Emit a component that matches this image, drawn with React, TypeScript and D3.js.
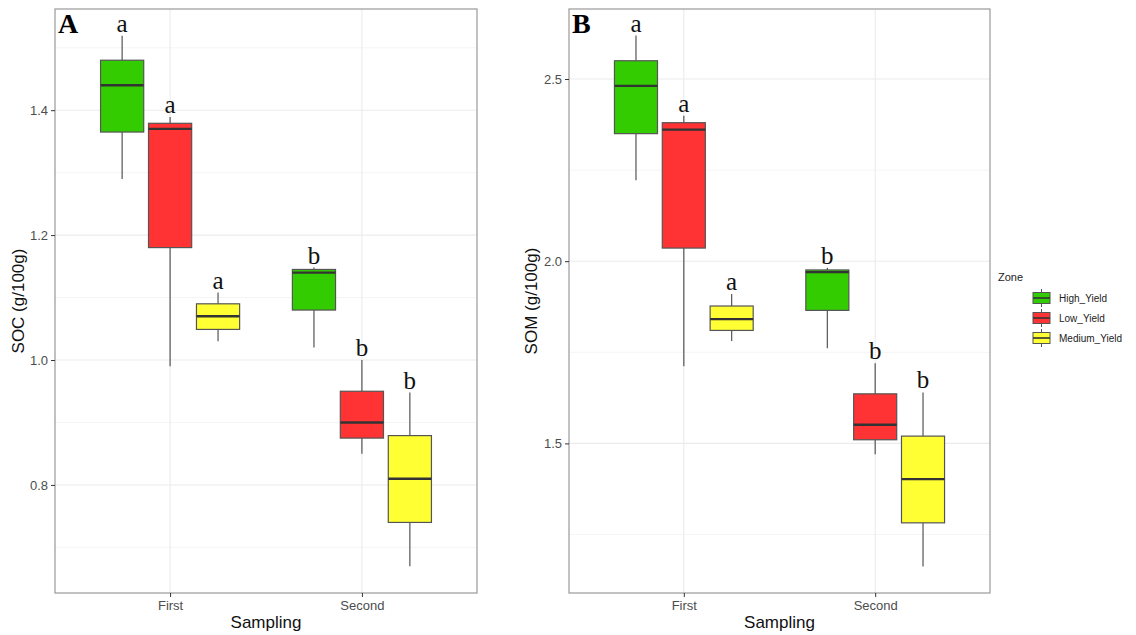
import React, { useEffect, useRef } from 'react';
import * as d3 from 'd3';

// categories
const samplings = ['First', 'Second'];
const zones = ['High_Yield', 'Low_Yield', 'Medium_Yield'];
const zoneColors = ['#33cc00', '#ff3333', '#ffff33'];

// box order: First-High, First-Low, First-Medium, Second-High, Second-Low, Second-Medium
const socLower = [1.29, 0.99, 1.03, 1.02, 0.85, 0.67];
const socQ1 = [1.365, 1.18, 1.049, 1.08, 0.875, 0.74];
const socMedian = [1.44, 1.37, 1.07, 1.14, 0.9, 0.81];
const socQ3 = [1.48, 1.379, 1.09, 1.145, 0.95, 0.879];
const socUpper = [1.519, 1.389, 1.108, 1.148, 1.0, 0.948];
const socLetters = ['a', 'a', 'a', 'b', 'b', 'b'];
const socTicks = [0.8, 1.0, 1.2, 1.4];
const socMinor = [0.7, 0.9, 1.1, 1.3, 1.5];

const somLower = [2.222, 1.712, 1.781, 1.761, 1.47, 1.162];
const somQ1 = [2.35, 2.036, 1.81, 1.865, 1.51, 1.282];
const somMedian = [2.481, 2.361, 1.841, 1.97, 1.551, 1.402];
const somQ3 = [2.55, 2.38, 1.877, 1.976, 1.636, 1.52];
const somUpper = [2.619, 2.399, 1.91, 1.982, 1.72, 1.64];
const somLetters = ['a', 'a', 'a', 'b', 'b', 'b'];
const somTicks = [1.5, 2.0, 2.5];
const somMinor = [1.25, 1.75, 2.25];

type Panel = {
  tag: string;
  title: string;
  left: number;
  right: number;
  domain: [number, number];
  lower: number[];
  q1: number[];
  median: number[];
  q3: number[];
  upper: number[];
  letters: string[];
  ticks: number[];
  minor: number[];
  titleX: number;
};

const top = 9, bottom = 593;
const sans = '"Liberation Sans", Arial, Helvetica, sans-serif';
const serif = '"Liberation Serif", "Times New Roman", serif';

const panels: Panel[] = [
  {
    tag: 'A', title: 'SOC (g/100g)', left: 55, right: 477, domain: [0.627, 1.562],
    lower: socLower, q1: socQ1, median: socMedian, q3: socQ3, upper: socUpper,
    letters: socLetters, ticks: socTicks, minor: socMinor, titleX: 18,
  },
  {
    tag: 'B', title: 'SOM (g/100g)', left: 569, right: 990, domain: [1.0895, 2.692],
    lower: somLower, q1: somQ1, median: somMedian, q3: somQ3, upper: somUpper,
    letters: somLetters, ticks: somTicks, minor: somMinor, titleX: 531,
  },
];

const drawPanel = (svg: any, p: Panel) => {
  const x = d3.scalePoint().domain(samplings).range([p.left, p.right]).padding(0.6);
  const step = x.step();
  const dodge = d3.scaleBand().domain(zones).range([-0.375 * step, 0.375 * step]);
  const boxW = dodge.bandwidth() * 0.9;
  const y = d3.scaleLinear().domain(p.domain).range([bottom, top]);

  const g = svg.append('g');

  // grid
  g.selectAll('line.minor')
    .data(p.minor.filter(v => y(v) > top && y(v) < bottom))
    .enter().append('line')
    .attr('x1', p.left).attr('x2', p.right)
    .attr('y1', d => y(d)).attr('y2', d => y(d))
    .attr('stroke', '#f2f2f2').attr('stroke-width', 0.8);
  g.selectAll('line.major')
    .data(p.ticks)
    .enter().append('line')
    .attr('x1', p.left).attr('x2', p.right)
    .attr('y1', d => y(d)).attr('y2', d => y(d))
    .attr('stroke', '#ebebeb').attr('stroke-width', 1.1);
  g.selectAll('line.vgrid')
    .data(samplings)
    .enter().append('line')
    .attr('x1', d => x(d)).attr('x2', d => x(d))
    .attr('y1', top).attr('y2', bottom)
    .attr('stroke', '#ebebeb').attr('stroke-width', 1.1);

  const boxes = p.median.map((m, i) => ({
    s: samplings[Math.floor(i / 3)],
    z: zones[i % 3],
    c: zoneColors[i % 3],
    lo: p.lower[i], q1: p.q1[i], md: m, q3: p.q3[i], hi: p.upper[i],
    letter: p.letters[i],
  }));
  const cx = (d: any) => (x(d.s) as number) + (dodge(d.z) as number) + dodge.bandwidth() / 2;

  // whiskers
  g.selectAll('line.wh')
    .data(boxes)
    .enter().append('line')
    .attr('x1', cx).attr('x2', cx)
    .attr('y1', d => y(d.q3)).attr('y2', d => y(d.hi))
    .attr('stroke', '#555').attr('stroke-width', 1.2);
  g.selectAll('line.wl')
    .data(boxes)
    .enter().append('line')
    .attr('x1', cx).attr('x2', cx)
    .attr('y1', d => y(d.q1)).attr('y2', d => y(d.lo))
    .attr('stroke', '#555').attr('stroke-width', 1.2);

  // boxes
  g.selectAll('rect.box')
    .data(boxes)
    .enter().append('rect')
    .attr('x', d => cx(d) - boxW / 2)
    .attr('y', d => y(d.q3))
    .attr('width', boxW)
    .attr('height', d => y(d.q1) - y(d.q3))
    .attr('fill', d => d.c)
    .attr('stroke', '#555').attr('stroke-width', 1.2);

  // medians
  g.selectAll('line.med')
    .data(boxes)
    .enter().append('line')
    .attr('x1', d => cx(d) - boxW / 2).attr('x2', d => cx(d) + boxW / 2)
    .attr('y1', d => y(d.md)).attr('y2', d => y(d.md))
    .attr('stroke', '#333').attr('stroke-width', 2.4);

  // letters
  g.selectAll('text.letter')
    .data(boxes)
    .enter().append('text')
    .attr('x', cx)
    .attr('y', d => y(d.hi) - 4)
    .attr('text-anchor', 'middle')
    .attr('font-family', serif)
    .attr('font-size', '25px')
    .attr('fill', '#111')
    .text(d => d.letter);

  // border
  g.append('rect')
    .attr('x', p.left).attr('y', top)
    .attr('width', p.right - p.left).attr('height', bottom - top)
    .attr('fill', 'none').attr('stroke', '#999').attr('stroke-width', 1.2);

  // axes
  const yAxis = g.append('g')
    .attr('transform', `translate(${p.left},0)`)
    .call(d3.axisLeft(y).tickValues(p.ticks).tickFormat(d3.format('.1f')).tickSize(4).tickPadding(3));
  yAxis.select('.domain').remove();
  yAxis.selectAll('line').attr('stroke', '#333');
  yAxis.selectAll('text').attr('fill', '#4d4d4d').attr('font-family', sans).attr('font-size', '13px');

  const xAxis = g.append('g')
    .attr('transform', `translate(0,${bottom})`)
    .call(d3.axisBottom(x).tickSize(4).tickPadding(4));
  xAxis.select('.domain').remove();
  xAxis.selectAll('line').attr('stroke', '#333');
  xAxis.selectAll('text').attr('fill', '#4d4d4d').attr('font-family', sans).attr('font-size', '13px');

  // titles
  g.append('text')
    .attr('x', (p.left + p.right) / 2).attr('y', 628)
    .attr('text-anchor', 'middle')
    .attr('font-family', sans).attr('font-size', '17px').attr('fill', '#111')
    .text('Sampling');
  g.append('text')
    .attr('transform', `translate(${p.titleX + 6},${(top + bottom) / 2}) rotate(-90)`)
    .attr('text-anchor', 'middle')
    .attr('font-family', sans).attr('font-size', '17px').attr('fill', '#111')
    .text(p.title);

  g.append('text')
    .attr('x', p.left + 3).attr('y', 33)
    .attr('font-family', serif).attr('font-weight', 'bold').attr('font-size', '28px')
    .attr('fill', '#000')
    .text(p.tag);
};

const App = () => {
  const svgRef = useRef<SVGSVGElement>(null);

  useEffect(() => {
    const svg = d3.select(svgRef.current);
    svg.selectAll('*').remove();
    svg.append('rect').attr('width', 1136).attr('height', 635).attr('fill', '#fff');

    panels.forEach(p => drawPanel(svg, p));

    // legend
    const lg = svg.append('g').attr('transform', 'translate(998,0)');
    lg.append('text')
      .attr('x', 0).attr('y', 281)
      .attr('font-family', sans).attr('font-size', '11px').attr('fill', '#222')
      .text('Zone');
    const ly = d3.scalePoint().domain(zones).range([298, 338]);
    const key = lg.selectAll('g.key')
      .data(zones)
      .enter().append('g')
      .attr('transform', d => `translate(35,${ly(d)})`);
    key.append('line')
      .attr('x1', 8.5).attr('x2', 8.5).attr('y1', -9).attr('y2', 9)
      .attr('stroke', '#555').attr('stroke-width', 1);
    key.append('rect')
      .attr('x', 0).attr('y', -5.5).attr('width', 17).attr('height', 11)
      .attr('fill', (d, i) => zoneColors[i]).attr('stroke', '#555').attr('stroke-width', 1);
    key.append('line')
      .attr('x1', 0).attr('x2', 17).attr('y1', 0).attr('y2', 0)
      .attr('stroke', '#333').attr('stroke-width', 1.6);
    key.append('text')
      .attr('x', 26).attr('y', 4)
      .attr('font-family', sans).attr('font-size', '10px').attr('fill', '#222')
      .text(d => d);
  }, []);

  return (
    <svg ref={svgRef} width={1136} height={635}
      style={{ position: 'absolute', left: 0, top: 0, display: 'block' }} />
  );
};

export default App;
